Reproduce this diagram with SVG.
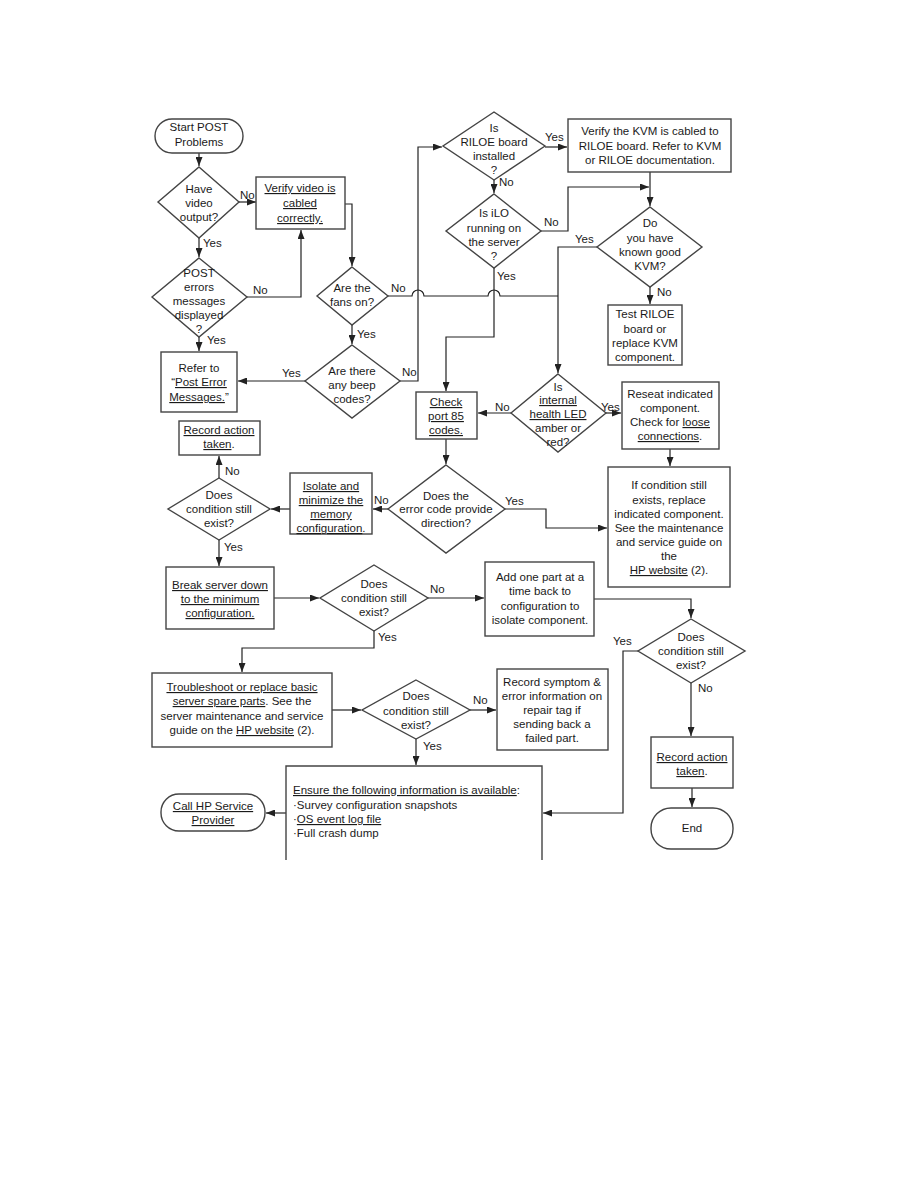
<svg xmlns="http://www.w3.org/2000/svg" width="918" height="1188" viewBox="0 0 918 1188">
<style>
.n{fill:#fff;stroke:#444;stroke-width:1.4}
.c{fill:none;stroke:#222;stroke-width:1.2}
text{font-family:"Liberation Sans",Arial,sans-serif;font-size:11.5px;fill:#1a1a1a;text-anchor:middle}
.l{text-anchor:start}
.u{text-decoration:underline}
</style>
<defs>
<marker id="a" markerWidth="9" markerHeight="7" refX="9" refY="3.5" orient="auto" markerUnits="userSpaceOnUse">
<path d="M0,0 L9,3.5 L0,7 z" fill="#222"/>
</marker>
</defs>
<rect width="918" height="1188" fill="#fff"/>

<g id="connectors">
<path class="c" d="M199,153 V166" marker-end="url(#a)"/>
<path class="c" d="M239,202 H256" marker-end="url(#a)"/>
<path class="c" d="M345,204 H352 V266" marker-end="url(#a)"/>
<path class="c" d="M199,238 V257" marker-end="url(#a)"/>
<path class="c" d="M247,297 H301 V230" marker-end="url(#a)"/>
<path class="c" d="M199,337 V351" marker-end="url(#a)"/>
<path class="c" d="M388,296 H412 a6,6 0 0 1 12,0 H488 a6,6 0 0 1 12,0 H558"/>
<path class="c" d="M352,325 V344" marker-end="url(#a)"/>
<path class="c" d="M305,381 H238" marker-end="url(#a)"/>
<path class="c" d="M400,381 H418 V147 H442" marker-end="url(#a)"/>
<path class="c" d="M545,147 H567" marker-end="url(#a)"/>
<path class="c" d="M494,180 V193" marker-end="url(#a)"/>
<path class="c" d="M541,231 H568 V187 H649" marker-end="url(#a)"/>
<path class="c" d="M650,172 V206" marker-end="url(#a)"/>
<path class="c" d="M597,247 H558 V373" marker-end="url(#a)"/>
<path class="c" d="M650,287 V304" marker-end="url(#a)"/>
<path class="c" d="M494,268 V337 H446 V391" marker-end="url(#a)"/>
<path class="c" d="M511,413 H478" marker-end="url(#a)"/>
<path class="c" d="M606,413 H621" marker-end="url(#a)"/>
<path class="c" d="M670,449 V466" marker-end="url(#a)"/>
<path class="c" d="M446,439 V464" marker-end="url(#a)"/>
<path class="c" d="M505,509 H546 V528 H607" marker-end="url(#a)"/>
<path class="c" d="M388,509 H373" marker-end="url(#a)"/>
<path class="c" d="M290,509 H271" marker-end="url(#a)"/>
<path class="c" d="M219,478 V456" marker-end="url(#a)"/>
<path class="c" d="M219,540 V566" marker-end="url(#a)"/>
<path class="c" d="M274,598 H319" marker-end="url(#a)"/>
<path class="c" d="M428,598 H484" marker-end="url(#a)"/>
<path class="c" d="M594,599 H691 V618" marker-end="url(#a)"/>
<path class="c" d="M638,651 H623 V813 H543" marker-end="url(#a)"/>
<path class="c" d="M691,683 V736" marker-end="url(#a)"/>
<path class="c" d="M692,788 V807" marker-end="url(#a)"/>
<path class="c" d="M374,631 V648 H242 V672" marker-end="url(#a)"/>
<path class="c" d="M332,710 H361" marker-end="url(#a)"/>
<path class="c" d="M470,710 H496" marker-end="url(#a)"/>
<path class="c" d="M416,739 V765" marker-end="url(#a)"/>
<path class="c" d="M286,813 H266" marker-end="url(#a)"/>
<g id="labels">
<text class="l" x="240" y="199">No</text>
<text class="l" x="203" y="247">Yes</text>
<text class="l" x="253" y="294">No</text>
<text class="l" x="207" y="344">Yes</text>
<text class="l" x="391" y="292">No</text>
<text class="l" x="357" y="338">Yes</text>
<text class="l" x="282" y="377">Yes</text>
<text class="l" x="402" y="376">No</text>
<text class="l" x="545" y="141">Yes</text>
<text class="l" x="499" y="186">No</text>
<text class="l" x="544" y="226">No</text>
<text class="l" x="575" y="243">Yes</text>
<text class="l" x="657" y="296">No</text>
<text class="l" x="497" y="280">Yes</text>
<text class="l" x="495" y="411">No</text>
<text class="l" x="601" y="411">Yes</text>
<text class="l" x="505" y="505">Yes</text>
<text class="l" x="374" y="504">No</text>
<text class="l" x="225" y="475">No</text>
<text class="l" x="224" y="551">Yes</text>
<text class="l" x="430" y="593">No</text>
<text class="l" x="613" y="645">Yes</text>
<text class="l" x="698" y="692">No</text>
<text class="l" x="378" y="641">Yes</text>
<text class="l" x="473" y="704">No</text>
<text class="l" x="423" y="750">Yes</text>
</g>
</g>

<g id="start">
<rect class="n" x="155" y="119" width="88" height="34" rx="17"/>
<text x="199" y="131">Start POST</text>
<text x="199" y="146">Problems</text>
</g>
<g id="have-video">
<polygon class="n" points="199,167 239,202 199,238 158,202"/>
<text x="199" y="193">Have</text>
<text x="199" y="207">video</text>
<text x="199" y="221">output?</text>
</g>
<g id="verify-video">
<rect class="n" x="256" y="177" width="89" height="52"/>
<text x="300" y="192" class="u">Verify video is</text>
<text x="300" y="207" class="u">cabled</text>
<text x="300" y="222" class="u">correctly.</text>
</g>
<g id="post-errors">
<polygon class="n" points="199,258 247,297 199,337 152,297"/>
<text x="199" y="277">POST</text>
<text x="199" y="291">errors</text>
<text x="199" y="305">messages</text>
<text x="199" y="319">displayed</text>
<text x="199" y="333">?</text>
</g>
<g id="refer-to">
<rect class="n" x="161" y="352" width="76" height="60"/>
<text x="199" y="372">Refer to</text>
<text x="199" y="386">“<tspan class="u">Post Error</tspan></text>
<text x="199" y="401"><tspan class="u">Messages.</tspan>”</text>
</g>
<g id="fans-on">
<polygon class="n" points="352,267 388,296 352,325 317,296"/>
<text x="352" y="292">Are the</text>
<text x="352" y="306">fans on?</text>
</g>
<g id="beep-codes">
<polygon class="n" points="352,345 400,381 352,418 305,381"/>
<text x="352" y="375">Are there</text>
<text x="352" y="389">any beep</text>
<text x="352" y="403">codes?</text>
</g>
<g id="riloe-installed">
<polygon class="n" points="494,112 545,146 494,180 443,146"/>
<text x="494" y="132">Is</text>
<text x="494" y="146">RILOE board</text>
<text x="494" y="160">installed</text>
<text x="494" y="174">?</text>
</g>
<g id="verify-kvm">
<rect class="n" x="568" y="119" width="163" height="53"/>
<text x="650" y="135">Verify the KVM is cabled to</text>
<text x="650" y="150">RILOE board. Refer to KVM</text>
<text x="650" y="164">or RILOE documentation.</text>
</g>
<g id="ilo-running">
<polygon class="n" points="494,194 541,231 494,268 446,231"/>
<text x="494" y="217">Is iLO</text>
<text x="494" y="232">running on</text>
<text x="494" y="246">the server</text>
<text x="494" y="260">?</text>
</g>
<g id="good-kvm">
<polygon class="n" points="650,207 702,247 650,287 597,247"/>
<text x="650" y="227">Do</text>
<text x="650" y="242">you have</text>
<text x="650" y="256">known good</text>
<text x="650" y="270">KVM?</text>
</g>
<g id="test-riloe">
<rect class="n" x="608" y="305" width="74" height="60"/>
<text x="645" y="318">Test RILOE</text>
<text x="645" y="333">board or</text>
<text x="645" y="347">replace KVM</text>
<text x="645" y="361">component.</text>
</g>
<g id="health-led">
<polygon class="n" points="558,374 606,413 558,452 511,413"/>
<text x="558" y="391">Is</text>
<text x="558" y="404" class="u">internal</text>
<text x="558" y="418" class="u">health LED</text>
<text x="558" y="432">amber or</text>
<text x="558" y="446">red?</text>
</g>
<g id="check-port85">
<rect class="n" x="416" y="392" width="61" height="47"/>
<text x="446" y="406" class="u">Check</text>
<text x="446" y="420" class="u">port 85</text>
<text x="446" y="434" class="u">codes.</text>
</g>
<g id="reseat">
<rect class="n" x="622" y="382" width="97" height="67"/>
<text x="670" y="398">Reseat indicated</text>
<text x="670" y="412">component.</text>
<text x="670" y="426">Check for <tspan class="u">loose</tspan></text>
<text x="670" y="440"><tspan class="u">connections</tspan>.</text>
</g>
<g id="if-condition">
<rect class="n" x="608" y="467" width="122" height="120"/>
<text x="669" y="489">If condition still</text>
<text x="669" y="504">exists, replace</text>
<text x="669" y="518">indicated component.</text>
<text x="669" y="532">See the maintenance</text>
<text x="669" y="546">and service guide on</text>
<text x="669" y="560">the</text>
<text x="669" y="574"><tspan class="u">HP website</tspan> (2).</text>
</g>
<g id="error-code">
<polygon class="n" points="446,465 505,509 446,553 388,509"/>
<text x="446" y="500">Does the</text>
<text x="446" y="513">error code provide</text>
<text x="446" y="527">direction?</text>
</g>
<g id="isolate-memory">
<rect class="n" x="290" y="473" width="82" height="61"/>
<text x="331" y="490" class="u">Isolate and</text>
<text x="331" y="504" class="u">minimize the</text>
<text x="331" y="518" class="u">memory</text>
<text x="331" y="532"><tspan class="u">configuration</tspan>.</text>
</g>
<g id="condition-1">
<polygon class="n" points="219,478 270,509 219,540 168,509"/>
<text x="219" y="499">Does</text>
<text x="219" y="513">condition still</text>
<text x="219" y="527">exist?</text>
</g>
<g id="record-action-1">
<rect class="n" x="179" y="421" width="81" height="34"/>
<text x="219" y="434" class="u">Record action</text>
<text x="219" y="448"><tspan class="u">taken</tspan>.</text>
</g>
<g id="break-server">
<rect class="n" x="166" y="567" width="108" height="62"/>
<text x="220" y="589" class="u">Break server down</text>
<text x="220" y="603" class="u">to the minimum</text>
<text x="220" y="617" class="u">configuration.</text>
</g>
<g id="condition-2">
<polygon class="n" points="374,565 428,598 374,631 320,598"/>
<text x="374" y="588">Does</text>
<text x="374" y="602">condition still</text>
<text x="374" y="616">exist?</text>
</g>
<g id="add-part">
<rect class="n" x="485" y="562" width="109" height="74"/>
<text x="540" y="581">Add one part at a</text>
<text x="540" y="595">time back to</text>
<text x="540" y="610">configuration to</text>
<text x="540" y="624">isolate component.</text>
</g>
<g id="condition-3">
<polygon class="n" points="691,619 745,651 691,683 638,651"/>
<text x="691" y="641">Does</text>
<text x="691" y="655">condition still</text>
<text x="691" y="669">exist?</text>
</g>
<g id="record-action-2">
<rect class="n" x="651" y="737" width="82" height="51"/>
<text x="692" y="761" class="u">Record action</text>
<text x="692" y="775"><tspan class="u">taken</tspan>.</text>
</g>
<g id="end">
<rect class="n" x="651" y="808" width="82" height="41" rx="20"/>
<text x="692" y="832">End</text>
</g>
<g id="troubleshoot">
<rect class="n" x="152" y="673" width="180" height="74"/>
<text x="242" y="691" class="u">Troubleshoot or replace basic</text>
<text x="242" y="705"><tspan class="u">server spare parts</tspan>. See the</text>
<text x="242" y="720">server maintenance and service</text>
<text x="242" y="734">guide on the <tspan class="u">HP website</tspan> (2).</text>
</g>
<g id="condition-4">
<polygon class="n" points="416,680 470,710 416,739 362,710"/>
<text x="416" y="700">Does</text>
<text x="416" y="715">condition still</text>
<text x="416" y="729">exist?</text>
</g>
<g id="record-symptom">
<rect class="n" x="497" y="669" width="111" height="81"/>
<text x="552" y="686">Record symptom &amp;</text>
<text x="552" y="700">error information on</text>
<text x="552" y="714">repair tag if</text>
<text x="552" y="728">sending back a</text>
<text x="552" y="742">failed part.</text>
</g>
<g id="ensure-info">
<path class="n" d="M286,860 V766 H542 V860" fill="#fff"/>
<text class="l" x="293" y="794"><tspan class="u">Ensure the following information is available</tspan>:</text>
<text class="l" x="293" y="809">·Survey configuration snapshots</text>
<text class="l" x="293" y="823">·<tspan class="u">OS event log file</tspan></text>
<text class="l" x="293" y="837">·Full crash dump</text>
</g>
<g id="call-hp">
<rect class="n" x="161" y="794" width="104" height="37" rx="18"/>
<text x="213" y="810" class="u">Call HP Service</text>
<text x="213" y="824" class="u">Provider</text>
</g>
</svg>
